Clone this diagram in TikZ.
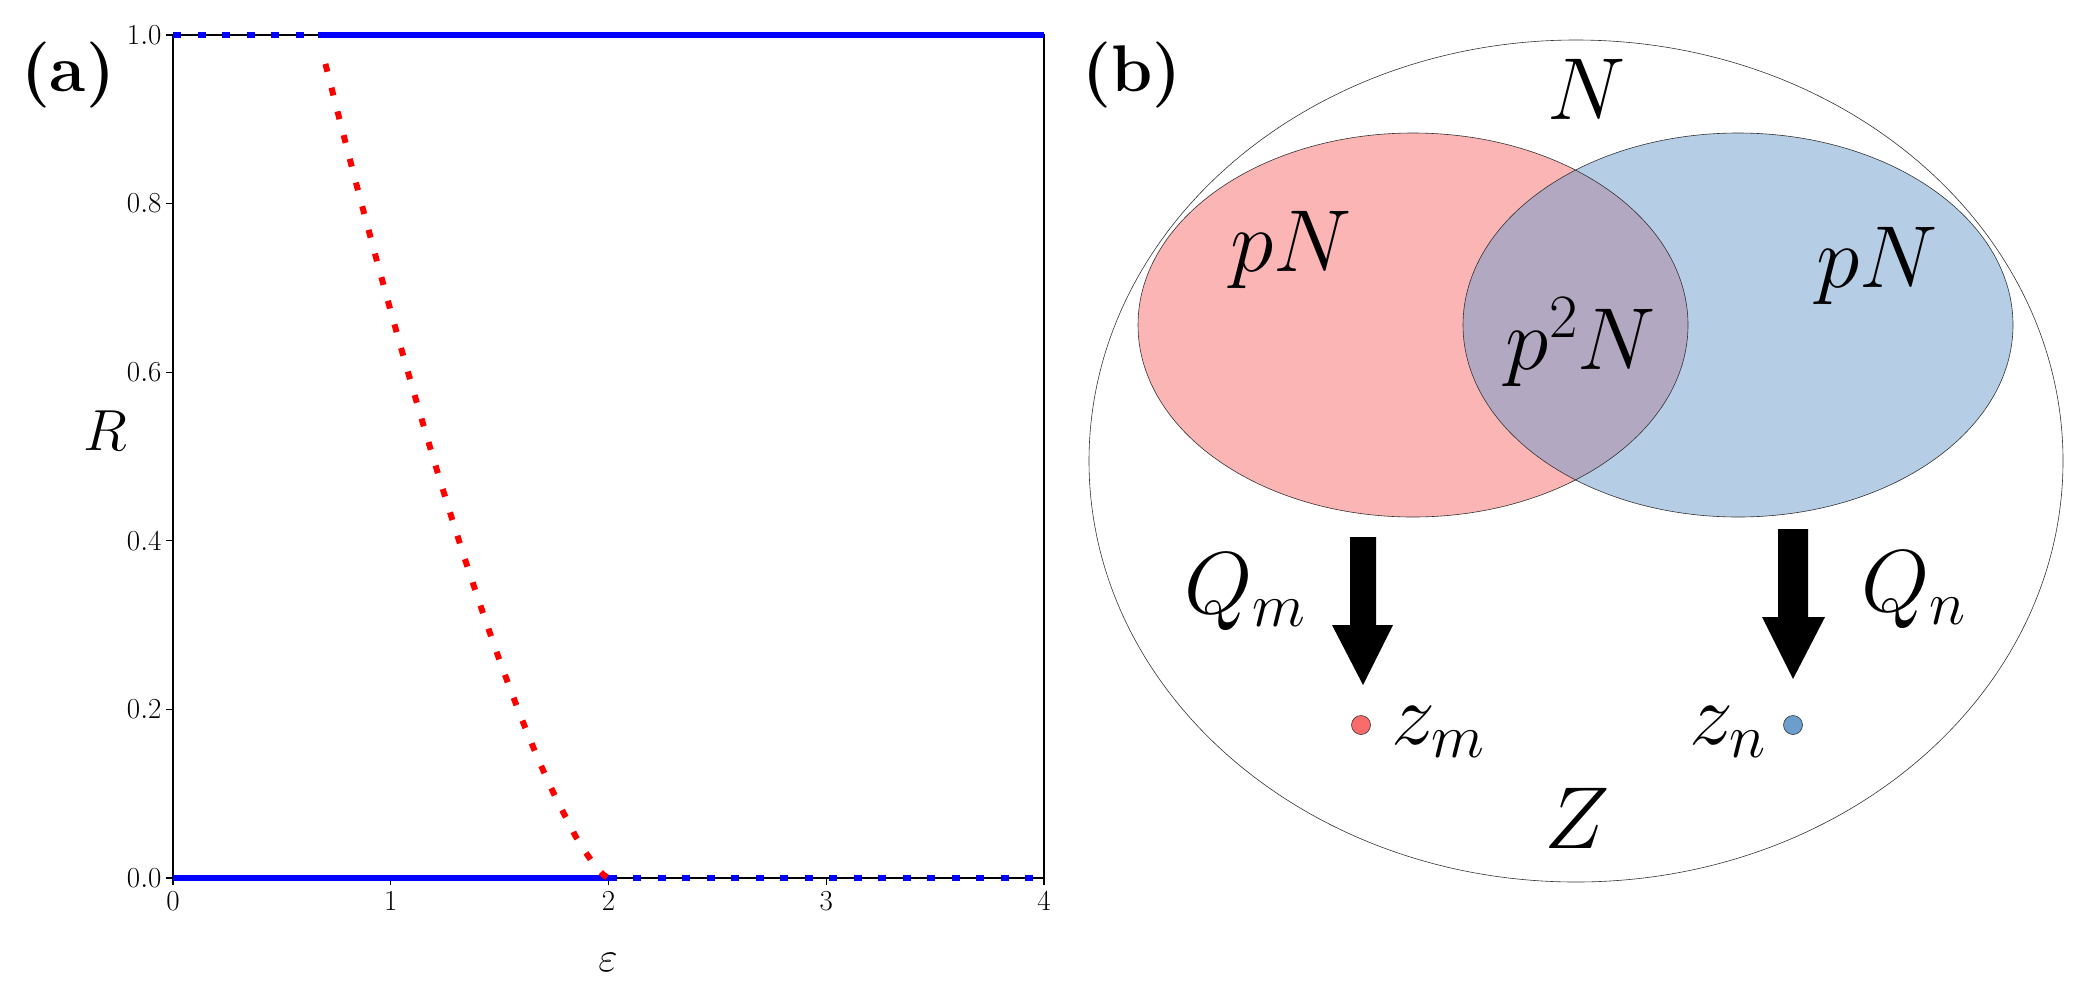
\RequirePackage{fix-cm}
\documentclass[tikz,border=0pt]{standalone}
\begin{document}
\begin{tikzpicture}[x=1pt,y=-1pt,
  bluel/.style={blue,line width=6pt},
  dotl/.style={line width=6pt,dash pattern=on 8pt off 16.5pt},
  tick/.style={line width=1.2pt},
  lab/.style={font=\fontsize{29}{30}\selectfont},
  big/.style={font=\fontsize{88}{90}\selectfont},
  panel/.style={font=\fontsize{66}{70}\selectfont\bfseries},
  ell/.style={draw=black!80,line width=0.6pt,fill opacity=0.5}]
\useasboundingbox (0,0) rectangle (2088,997);
\definecolor{pr}{RGB}{250,107,107}
\definecolor{pb}{RGB}{107,157,205}
% ---- panel (a)
\coordinate (o) at (173,878);
\draw[tick] (173,35) rectangle (1044,878);
\foreach \i in {0,...,4}{
  \draw[tick] ({173+\i*217.75},878) -- ++(0,7);
  \node[lab,anchor=north] (xt\i) at ({173+\i*217.75},888) {$\i$};}
\foreach \v/\t in {0/0.0,0.2/0.2,0.4/0.4,0.6/0.6,0.8/0.8,1/1.0}{
  \draw[tick] (173,{878-\v*843}) -- ++(-7,0);
  \node[lab,anchor=east] at (165,{878-\v*843}) {$\t$};}
\node[font=\fontsize{58}{60}\selectfont] (R) at (105,431) {$R$};
\node[font=\fontsize{42}{44}\selectfont] (eps) at (608,962) {$\varepsilon$};
\node[panel] (pa) at (68,75) {(a)};
% lines
\draw[bluel] ({173+0.667*217.75},35) -- (1044,35);
\draw[blue,dotl] (173,35) -- ({173+0.667*217.75},35);
\draw[bluel] (173,878) -- ({173+2*217.75},878);
\draw[blue,dotl] ({173+2*217.75},878) -- (1044,878);
\draw[red,dotl,domain=0.7:2,samples=60] plot ({173+\x*217.75},{878-843*((2-\x)/1.3333)^1.38});
% ---- panel (b)
\node[panel] (pb) at (1132,75) {(b)};
\draw[line width=0.6pt,black!80] (1576,461) ellipse [x radius=487,y radius=421];
\fill[pr,fill opacity=0.5] (1413,325) ellipse [x radius=275,y radius=192];
\fill[pb,fill opacity=0.5] (1738,325) ellipse [x radius=275,y radius=192];
\draw[line width=0.6pt,black!80] (1413,325) ellipse [x radius=275,y radius=192];
\draw[line width=0.6pt,black!80] (1738,325) ellipse [x radius=275,y radius=192];
\node[big] (N) at (1587,89) {$N$};
\node[big] (pN1) at (1291,250) {$pN$};
\node[big] (pN2) at (1877,266) {$pN$};
\node[big] (p2N) at (1581,342) {$p^2N$};
\node[big] (Qm) at (1245,592) {$Q_m$};
\node[big] (Qn) at (1914,590) {$Q_n$};
\node[big] (Z) at (1577,818) {$Z$};
\node[big,anchor=west] (zm) at (1388,732) {$z_m$};
\node[big,anchor=east] (zn) at (1770,732) {$z_n$};
\node[circle,draw=black!80,line width=0.6pt,fill=pr,inner sep=0,minimum size=19pt] (dm) at (1361,725) {};
\node[circle,draw=black!80,line width=0.6pt,fill=pb,inner sep=0,minimum size=19pt] (dn) at (1793,725) {};
\fill (1350,537) -- (1376,537) -- (1376,625) -- (1393,625) -- (1363,685) -- (1332,625) -- (1350,625) -- cycle;
\fill (1778,529) -- (1808,529) -- (1808,617) -- (1825,617) -- (1793,679) -- (1762,617) -- (1778,617) -- cycle;
\end{tikzpicture}
\end{document}
